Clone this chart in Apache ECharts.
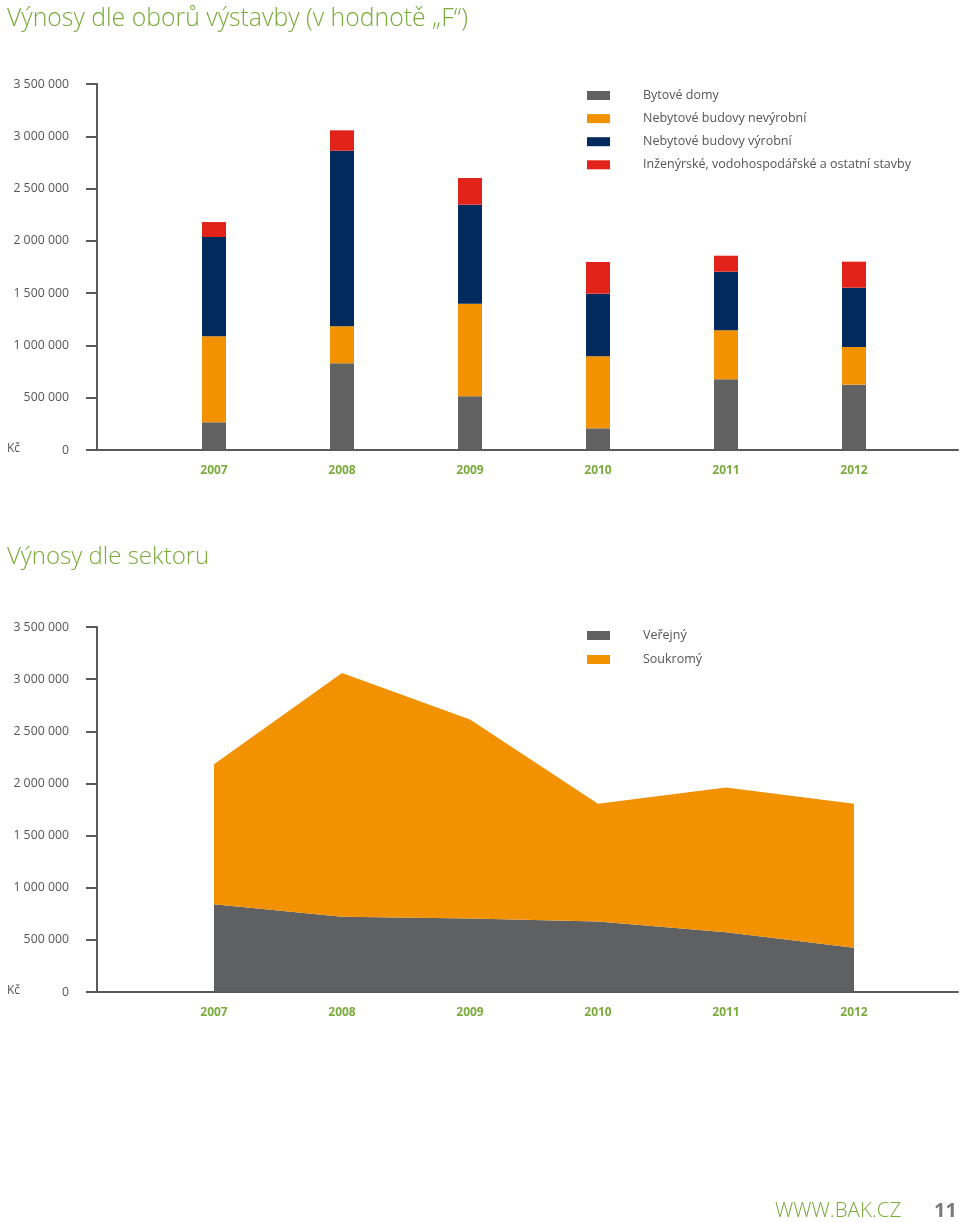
<!DOCTYPE html>
<html>
<head>
<meta charset="utf-8">
<script src="https://cdn.jsdelivr.net/npm/echarts@6/dist/echarts.min.js"></script>
<style>
html,body{margin:0;padding:0;background:#fff;}
#c{width:960px;height:1222px;}
</style>
</head>
<body>
<div id="c"></div>
<script>
// ---- data ----
const years = ['2007', '2008', '2009', '2010', '2011', '2012'];
const bytoveDomy      = [265000, 829000, 513000, 207000, 676000, 625000];
const nevyrobni       = [822000, 354000, 886000, 689000, 469000, 360000];
const vyrobni         = [950000, 1679000, 947000, 599000, 560000, 567000];
const inzenyrske      = [143000, 195000, 255000, 303000, 153000, 249000];
const verejny         = [842000, 721000, 705000, 676000, 574000, 424000];
const soukromy        = [1341000, 2339000, 1908000, 1130000, 1388000, 1382000];

const namesTop = ['Bytové domy', 'Nebytové budovy nevýrobní', 'Nebytové budovy výrobní', 'Inženýrské, vodohospodářské a ostatní stavby'];
const namesBottom = ['Veřejný', 'Soukromý'];

const C_GRAY = '#626263', C_ORANGE = '#f39200', C_NAVY = '#002b5c', C_RED = '#e2231a';
const C_GREEN = '#7aab3b', C_AXIS = '#5a5a5a', C_TEXT = '#555555';
const FONT = '"Open Sans", "Noto Sans", sans-serif';

function fmt(v) { return String(v).replace(/\B(?=(\d{3})+(?!\d))/g, ' '); }

const chart = echarts.init(document.getElementById('c'), null, {renderer: 'canvas'});

function xAxisCfg(gridIndex) {
  return {
    type: 'category', gridIndex: gridIndex, data: years, boundaryGap: true,
    axisLine: {show: false},
    axisTick: {show: false},
    splitLine: {show: false},
    axisLabel: {color: C_GREEN, fontWeight: 'bold', fontSize: 12, fontFamily: FONT, margin: 15}
  };
}
function yAxisCfg(gridIndex) {
  return {
    type: 'value', gridIndex: gridIndex, min: 0, max: 3500000, interval: 500000, offset: 53,
    axisLine: {show: true, lineStyle: {color: C_AXIS, width: 2}},
    axisTick: {show: true, length: 11, lineStyle: {color: C_AXIS, width: 2}},
    splitLine: {show: false},
    axisLabel: {color: C_TEXT, fontSize: 12.3, fontFamily: FONT, margin: 28, formatter: v => fmt(v)}
  };
}
// full-width baseline axes (axis line only)
function baseXAxis(gridIndex) {
  return {type: 'value', gridIndex: gridIndex, min: 0, max: 1, z: 10,
    axisLine: {show: true, lineStyle: {color: C_AXIS, width: 2}},
    axisTick: {show: false}, axisLabel: {show: false}, splitLine: {show: false}};
}
function baseYAxis(gridIndex) {
  return {type: 'value', gridIndex: gridIndex, min: 0, max: 1, show: false};
}

const legendText = {color: C_TEXT, fontSize: 12.5, fontFamily: FONT, padding: [0, 0, 0, 28]};

chart.setOption({
  animation: false,
  backgroundColor: '#fff',
  grid: [
    {left: 150, right: 42, top: 84, bottom: 1222 - 450},
    {left: 150, right: 42, top: 627, bottom: 1222 - 992},
    {left: 97, right: 2, top: 84, bottom: 1222 - 450},
    {left: 97, right: 2, top: 627, bottom: 1222 - 992}
  ],
  xAxis: [xAxisCfg(0), xAxisCfg(1), baseXAxis(2), baseXAxis(3)],
  yAxis: [yAxisCfg(0), yAxisCfg(1), baseYAxis(2), baseYAxis(3)],
  legend: [
    {
      data: namesTop.map((n, i) => ({name: n, itemStyle: {color: [C_GRAY, C_ORANGE, C_NAVY, C_RED][i]}})),
      orient: 'vertical', left: 587, top: 89, padding: 0, itemWidth: 23, itemHeight: 9, itemGap: 10.1,
      icon: 'rect', textStyle: legendText, selectedMode: false
    },
    {
      data: namesBottom.map((n, i) => ({name: n, itemStyle: {color: [C_GRAY, C_ORANGE][i]}})),
      orient: 'vertical', left: 587, top: 629, padding: 0, itemWidth: 23, itemHeight: 9, itemGap: 11,
      icon: 'rect', textStyle: legendText, selectedMode: false
    }
  ],
  series: [
    {name: namesTop[0], type: 'bar', stack: 'top', xAxisIndex: 0, yAxisIndex: 0, barWidth: 24, itemStyle: {color: C_GRAY}, data: bytoveDomy},
    {name: namesTop[1], type: 'bar', stack: 'top', xAxisIndex: 0, yAxisIndex: 0, barWidth: 24, itemStyle: {color: C_ORANGE}, data: nevyrobni},
    {name: namesTop[2], type: 'bar', stack: 'top', xAxisIndex: 0, yAxisIndex: 0, barWidth: 24, itemStyle: {color: C_NAVY}, data: vyrobni},
    {name: namesTop[3], type: 'bar', stack: 'top', xAxisIndex: 0, yAxisIndex: 0, barWidth: 24, itemStyle: {color: C_RED}, data: inzenyrske},
    {name: namesBottom[0], type: 'line', stack: 'bottom', xAxisIndex: 1, yAxisIndex: 1, showSymbol: false, symbol: 'none',
      lineStyle: {width: 0}, itemStyle: {color: '#5f6062'}, areaStyle: {color: '#5f6062', opacity: 1}, data: verejny},
    {name: namesBottom[1], type: 'line', stack: 'bottom', xAxisIndex: 1, yAxisIndex: 1, showSymbol: false, symbol: 'none',
      lineStyle: {width: 0}, itemStyle: {color: C_ORANGE}, areaStyle: {color: C_ORANGE, opacity: 1}, data: soukromy}
  ],
  graphic: [
    {type: 'text', left: 7, top: 6, style: {text: 'Výnosy dle oborů výstavby (v hodnotě „F“)', fill: C_GREEN, font: '300 24.8px ' + FONT}},
    {type: 'text', left: 7, top: 545, style: {text: 'Výnosy dle sektoru', fill: C_GREEN, font: '300 24px ' + FONT}},
    {type: 'text', left: 7, top: 443, style: {text: 'Kč', fill: C_TEXT, font: '12px ' + FONT}},
    {type: 'text', left: 7, top: 985, style: {text: 'Kč', fill: C_TEXT, font: '12px ' + FONT}},
    {type: 'text', left: 775, top: 1201, style: {text: 'WWW.BAK.CZ', fill: C_GREEN, font: '300 20.5px ' + FONT}},
    {type: 'text', left: 934, top: 1201, style: {text: '11', fill: '#7a7a7a', font: 'bold 20px ' + FONT}}
  ]
});
</script>
</body>
</html>
